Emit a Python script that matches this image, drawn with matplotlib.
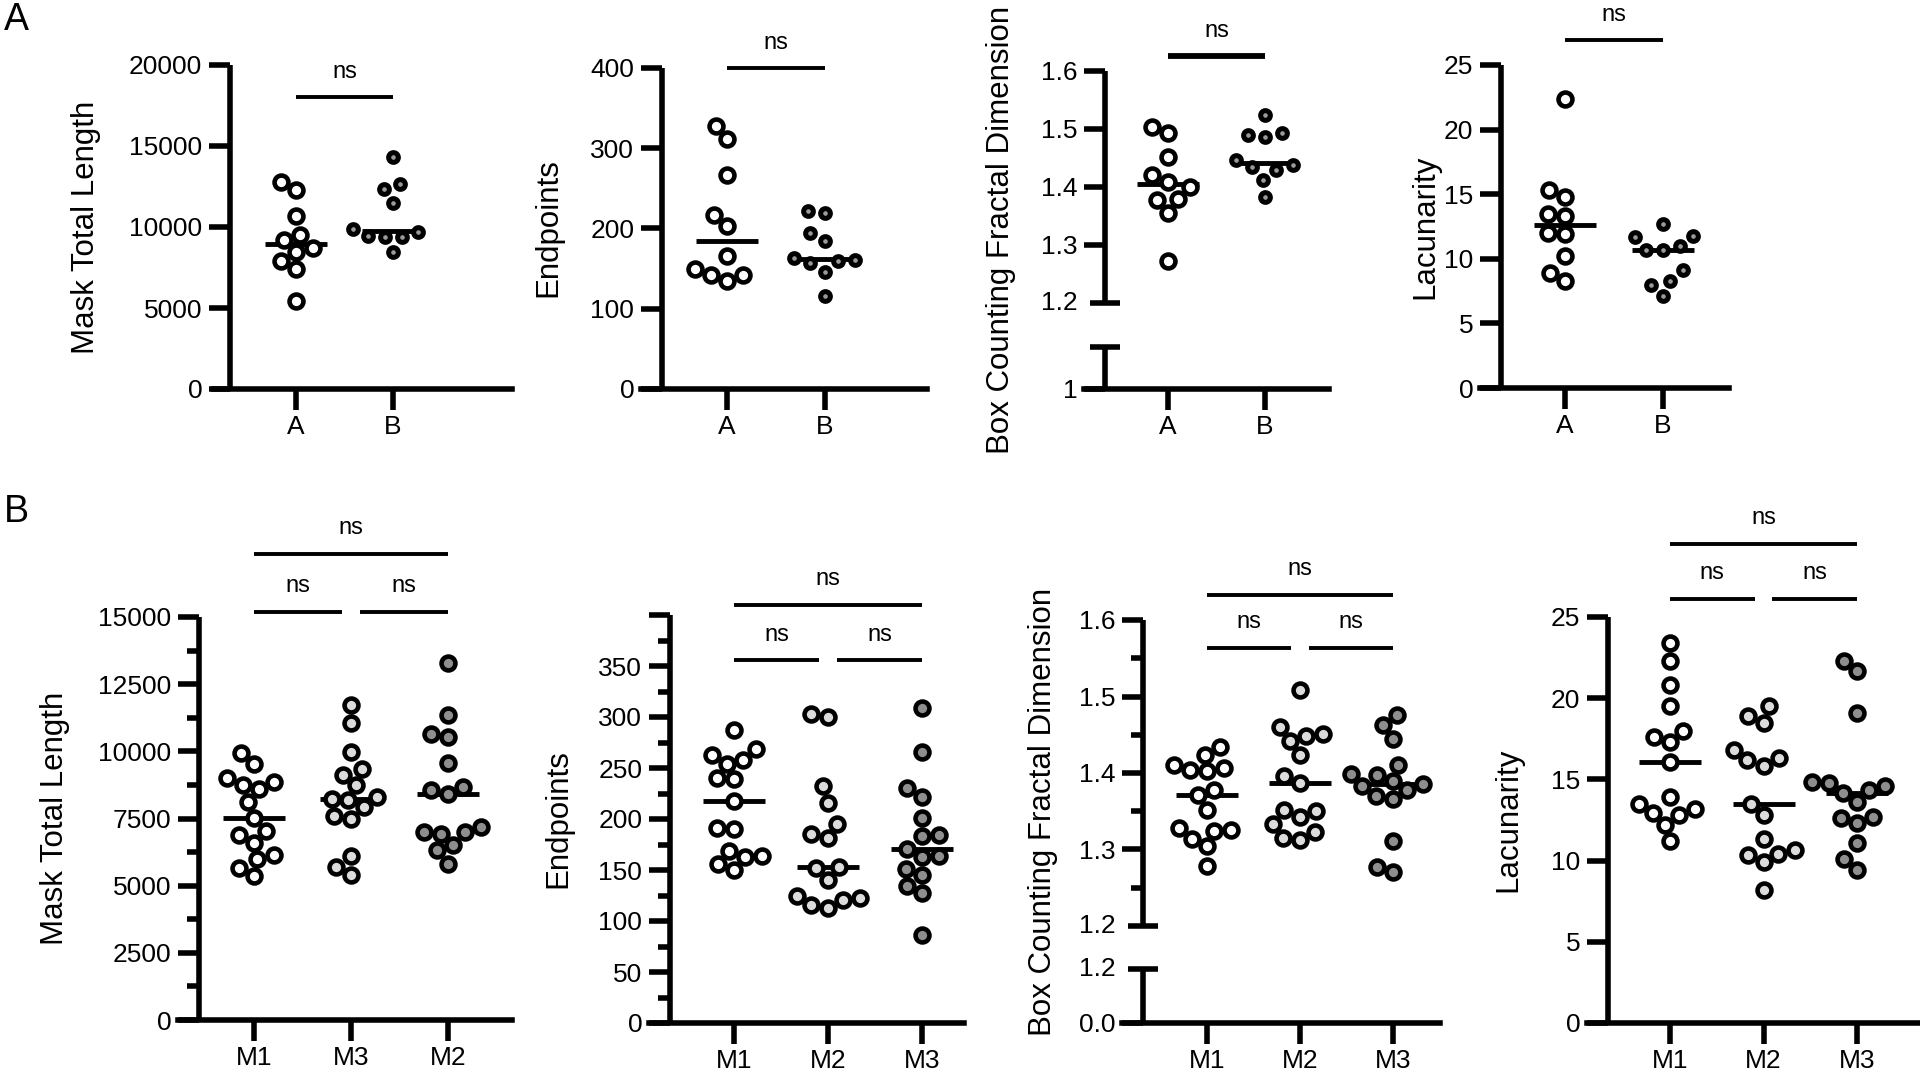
import numpy as np
import matplotlib.pyplot as plt

plt.rcParams['font.family'] = ['Liberation Sans', 'DejaVu Sans']

W, H = 1920, 1080

# ---------------- values ----------------
# row A : two groups
groups_a = ['A', 'B']
length_a = [12750, 12300, 10690, 9520, 9170, 8700, 8450, 7880, 7400, 5410]
length_b = [14300, 12640, 12360, 11470, 9870, 9690, 9420, 9380, 9380, 8450]
endpoints_a = [328, 312, 267, 217, 203, 166, 149, 142, 142, 135]
endpoints_b = [222, 219, 195, 184, 163, 161, 159, 157, 146, 116]
fractal_a = [1.504, 1.493, 1.452, 1.421, 1.409, 1.400, 1.379, 1.378, 1.355, 1.272]
fractal_b = [1.524, 1.493, 1.489, 1.487, 1.446, 1.438, 1.435, 1.429, 1.412, 1.383]
lacunarity_a = [22.4, 15.3, 14.8, 13.5, 13.3, 12.0, 11.9, 10.2, 8.9, 8.3]
lacunarity_b = [12.7, 11.8, 11.7, 11.0, 10.7, 10.7, 9.1, 8.3, 8.0, 7.1]

# row B : three groups (first panel has a different order)
groups_len = ['M1', 'M3', 'M2']
groups_b = ['M1', 'M2', 'M3']
length_m1 = [9940, 9540, 9010, 8850, 8760, 8580, 8110, 7525, 7030, 6870, 6600, 6130, 5980, 5670, 5360]
length_m3 = [11720, 11050, 9960, 9330, 9110, 8730, 8300, 8240, 8170, 7910, 7610, 7500, 6120, 5700, 5400]
length_m2 = [13280, 11340, 10640, 10520, 9550, 8680, 8550, 8420, 7170, 6980, 6980, 6940, 6500, 6310, 5820]
endpoints_m1 = [287, 269, 263, 258, 254, 240, 239, 218, 191, 190, 169, 164, 163, 156, 150]
endpoints_m2 = [303, 300, 232, 216, 195, 185, 181, 153, 152, 140, 125, 123, 121, 116, 113]
endpoints_m3 = [309, 266, 230, 222, 201, 184, 183, 171, 164, 163, 151, 145, 134, 127, 86]
fractal_m1 = [1.434, 1.424, 1.410, 1.407, 1.404, 1.402, 1.378, 1.371, 1.352, 1.328, 1.325, 1.324, 1.314, 1.304, 1.278]
fractal_m2 = [1.508, 1.460, 1.451, 1.448, 1.442, 1.424, 1.396, 1.387, 1.352, 1.350, 1.343, 1.333, 1.323, 1.315, 1.313]
fractal_m3 = [1.476, 1.463, 1.445, 1.410, 1.399, 1.398, 1.389, 1.385, 1.383, 1.378, 1.370, 1.366, 1.311, 1.277, 1.270]
lacunarity_m1 = [23.4, 22.3, 20.8, 19.5, 17.95, 17.6, 17.3, 16.1, 13.9, 13.5, 13.2, 12.95, 12.8, 12.2, 11.2]
lacunarity_m2 = [19.5, 18.9, 18.5, 16.8, 16.3, 16.2, 15.85, 13.5, 12.8, 11.3, 10.65, 10.4, 10.35, 9.9, 8.2]
lacunarity_m3 = [22.3, 21.65, 19.1, 14.85, 14.8, 14.6, 14.35, 14.15, 13.6, 12.7, 12.6, 12.3, 11.1, 10.1, 9.4]

# axis ticks
ticks_length_a = [0, 5000, 10000, 15000, 20000]
ticks_endpoints_a = [0, 100, 200, 300, 400]
ticks_fractal = [1.3, 1.4, 1.5, 1.6]
ticks_lacunarity = [0, 5, 10, 15, 20, 25]
ticks_length_b = [0, 2500, 5000, 7500, 10000, 12500, 15000]
ticks_endpoints_b = [0, 50, 100, 150, 200, 250, 300, 350, 400]
labels_endpoints_b = ['0', '50', '100', '150', '200', '250', '300', '350', '']

# ---------------- style ----------------
LW = 4.0          # axis line width (pt)
TICK = 15         # major tick length
MINOR = 9
TS = 19           # tick label size
LS = 22.5         # axis label size
NS = 17           # "ns" size
D = 17.0          # spacing between dots in px
MED_HW = 31       # half width of the median bar, px

fig = plt.figure(figsize=(W / 100, H / 100), dpi=100)
fig.patch.set_facecolor('white')


def add_box(x0, x1, y0, y1):
    return fig.add_axes([x0 / W, 1 - y1 / H, (x1 - x0) / W, (y1 - y0) / H])


def swarm(ypx, d):
    # simple beeswarm: put each dot as close to the centre as possible
    xs = np.zeros(len(ypx))
    done = []
    for i in np.argsort(ypx):
        blocked = []
        for j in done:
            dy = abs(ypx[i] - ypx[j])
            if dy < d:
                w = np.sqrt(d * d - dy * dy)
                blocked.append((xs[j] - w, xs[j] + w))
        cands = sorted([0.0] + [e for b in blocked for e in b], key=abs)
        for c in cands:
            if all(c <= lo + 1e-6 or c >= hi - 1e-6 for lo, hi in blocked):
                xs[i] = c
                break
        done.append(i)
    return xs


def base_style(ax, spine_x, show_x=True):
    ax.patch.set_visible(False)
    ax.spines['top'].set_visible(False)
    ax.spines['right'].set_visible(False)
    ax.spines['left'].set_position(('data', spine_x))
    ax.spines['left'].set_linewidth(LW)
    ax.spines['bottom'].set_linewidth(LW)
    ax.spines['left'].set_capstyle('butt')
    ax.tick_params(which='major', width=LW, length=TICK, labelsize=TS)
    ax.tick_params(which='minor', width=LW, length=MINOR)
    ax.tick_params(axis='y', pad=5)
    ax.tick_params(axis='x', pad=4)
    if not show_x:
        ax.spines['bottom'].set_visible(False)
        ax.tick_params(axis='x', bottom=False, labelbottom=False)


def panel(g, groups, series, faces, sizes, ylim, yticks, ylabel,
          ylabels=None, minor=None, brackets=(), broken=None, blw=2.8):
    cats = g['cats']
    s = (cats[-1] - cats[0]) / (len(cats) - 1)
    xlim = ((g['xl'] - cats[0]) / s, (g['xr'] - cats[0]) / s)
    spine_x = (g['yax'] - cats[0]) / s
    data_bot = g['mid'] if broken else g['bot']

    ax = add_box(g['xl'], g['xr'], g['top'], data_bot)
    ax.set_xlim(xlim)
    ax.set_ylim(ylim)
    base_style(ax, spine_x, show_x=not broken)
    ax.set_yticks(yticks)
    if ylabels is not None:
        ax.set_yticklabels(ylabels)
    if minor is not None:
        ax.set_yticks(minor, minor=True)
    ppy = (data_bot - g['top']) / (ylim[1] - ylim[0])

    for i, vals in enumerate(series):
        vals = np.asarray(vals, float)
        off = swarm(vals * ppy, D) / s
        med = np.median(vals)
        ax.plot([i - MED_HW / s, i + MED_HW / s], [med, med], color='black',
                lw=3.5, solid_capstyle='butt', zorder=2, clip_on=False)
        ax.plot(i + off, vals, 'o', ms=sizes[i][0], mew=sizes[i][1],
                mfc=faces[i], mec='black', zorder=3, clip_on=False)

    # significance brackets
    for (a, b, y_line, y_txt) in brackets:
        yl = ylim[0] + (data_bot - y_line) / ppy
        yt = ylim[0] + (data_bot - y_txt) / ppy
        ax.plot([a, b], [yl, yl], color='black', lw=blw, solid_capstyle='butt', clip_on=False)
        ax.text((a + b) / 2, yt, 'ns', ha='center', va='center', fontsize=NS)

    if broken:
        # break caps and the lower stub of the axis
        ax.plot([spine_x], [ylim[0]], marker='_', ms=21, mew=LW, color='black', clip_on=False)
        ax.annotate(broken['mid_label'], (spine_x, ylim[0]), xytext=(-(TICK + 5), 0),
                    textcoords='offset points', ha='right', va='center', fontsize=TS)
        low = add_box(g['xl'], g['xr'], g['cap'], g['bot'])
        low.set_xlim(xlim)
        low.set_ylim(0, 1)
        base_style(low, spine_x)
        low.set_yticks([0])
        low.set_yticklabels([broken['bottom_label']])
        low.plot([spine_x], [1], marker='_', ms=21, mew=LW, color='black', clip_on=False)
        if broken.get('cap_label'):
            low.annotate(broken['cap_label'], (spine_x, 1), xytext=(-(TICK + 5), 0),
                         textcoords='offset points', ha='right', va='center', fontsize=TS)
        xax = low
    else:
        xax = ax
    xax.set_xticks(range(len(groups)))
    xax.set_xticklabels(groups)

    fig.text(g['lab'][0] / W, 1 - g['lab'][1] / H, ylabel, rotation=90,
             ha='center', va='center', fontsize=LS)
    return ax


# ---------------- layout (pixel positions) ----------------
geo_a = [
    dict(xl=214, xr=512, cats=[296, 393], yax=230, top=65, bot=389, lab=(86, 227)),
    dict(xl=641, xr=927, cats=[727, 825], yax=662, top=68, bot=389, lab=(548, 228)),
    dict(xl=1084, xr=1329, cats=[1168, 1265], yax=1105, top=71, mid=303, cap=347, bot=389, lab=(1001, 230)),
    dict(xl=1480, xr=1729, cats=[1565, 1663], yax=1501, top=65, bot=388, lab=(1425, 227)),
]
geo_b = [
    dict(xl=178, xr=512, cats=[254, 354, 448], yax=199, top=617, bot=1020, lab=(55, 818)),
    dict(xl=649, xr=964, cats=[734, 827, 922], yax=670, top=615, bot=1023, lab=(558, 819)),
    dict(xl=1122, xr=1440, cats=[1207, 1299, 1393], yax=1143, top=620, mid=926, cap=969, bot=1023, lab=(1043, 812)),
    dict(xl=1587, xr=1918, cats=[1670, 1763, 1857], yax=1608, top=617, bot=1023, lab=(1508, 820)),
]

face_a = ['white', '#9a9a9a']
size_a = [(10.0, 3.3), (7.0, 3.6)]
face_b = ['white', '#dcdcdc', '#8e8e8e']
size_b = [(10.0, 3.3)] * 3


def three_way(y_up, t_up, y_lo, t_lo, gap):
    return [(0, 2, y_up, t_up), (0, 1 - gap, y_lo, t_lo), (1 + gap, 2, y_lo, t_lo)]


panel(geo_a[0], groups_a, [length_a, length_b], face_a, size_a, (0, 20000),
      ticks_length_a, 'Mask Total Length', brackets=[(0, 1, 97, 72)])
panel(geo_a[1], groups_a, [endpoints_a, endpoints_b], face_a, size_a, (0, 400),
      ticks_endpoints_a, 'Endpoints', brackets=[(0, 1, 68, 43)])
panel(geo_a[2], groups_a, [fractal_a, fractal_b], face_a, size_a, (1.2, 1.6),
      ticks_fractal, 'Box Counting Fractal Dimension', brackets=[(0, 1, 56, 31)],
      broken=dict(mid_label='1.2', bottom_label='1'), blw=4.2)
panel(geo_a[3], groups_a, [lacunarity_a, lacunarity_b], face_a, size_a, (0, 25),
      ticks_lacunarity, 'Lacunarity', brackets=[(0, 1, 40, 15)])

panel(geo_b[0], groups_len, [length_m1, length_m3, length_m2], face_b, size_b, (0, 15000),
      ticks_length_b, 'Mask Total Length', minor=np.arange(1250, 15000, 2500),
      brackets=three_way(554, 528, 612, 586, 0.095))
panel(geo_b[1], groups_b, [endpoints_m1, endpoints_m2, endpoints_m3], face_b, size_b, (0, 400),
      ticks_endpoints_b, 'Endpoints', ylabels=labels_endpoints_b, minor=np.arange(25, 400, 50),
      brackets=three_way(605, 579, 660, 635, 0.095))
panel(geo_b[2], groups_b, [fractal_m1, fractal_m2, fractal_m3], face_b, size_b, (1.2, 1.6),
      ticks_fractal, 'Box Counting Fractal Dimension', minor=[1.25, 1.35, 1.45, 1.55],
      brackets=three_way(595, 569, 648, 622, 0.095),
      broken=dict(mid_label='1.2', bottom_label='0.0', cap_label='1.2'))
panel(geo_b[3], groups_b, [lacunarity_m1, lacunarity_m2, lacunarity_m3], face_b, size_b, (0, 25),
      ticks_lacunarity, 'Lacunarity', brackets=three_way(544, 518, 599, 573, 0.095))

fig.text(4 / W, 1 - 30 / H, 'A', fontsize=27, ha='left', va='baseline')
fig.text(4 / W, 1 - 522 / H, 'B', fontsize=27, ha='left', va='baseline')

fig.savefig('out.png', dpi=100, facecolor='white')
